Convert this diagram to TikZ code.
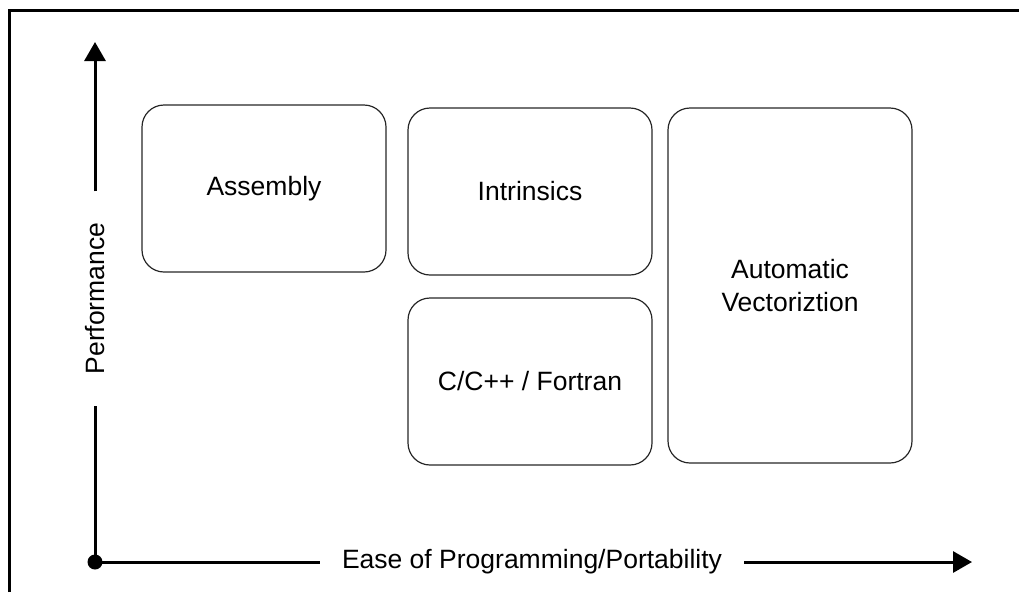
\documentclass[tikz,border=0pt]{standalone}
\usepackage{fontspec}
\setmainfont{Liberation Sans}
\usetikzlibrary{arrows.meta}
\begin{document}
\begin{tikzpicture}[x=1pt,y=-1pt,
  every node/.style={font=\fontsize{26.5}{33}\selectfont},
  box/.style={draw=black!85, line width=1.2pt, rounded corners=22pt,
    rectangle, minimum width=244pt, align=center, inner sep=0pt},
  axis/.style={line width=3pt},
  tip/.style={-{Triangle[length=19pt,width=21pt]}},
  frameline/.style={line width=3pt}]
\useasboundingbox (0,0) rectangle (1019,592);

% outer frame (top and left edges)
\coordinate (fl) at (9.5,592);
\coordinate (fc) at (9.5,10.5);
\coordinate (fr) at (1019,10.5);
\draw[frameline] (fl) -- (fc) -- (fr);

% boxes
\node[box, minimum height=167pt] (asm) at (264,188.5) {Assembly};
\node[box, minimum height=167pt] (intr) at (530,191.5) {Intrinsics};
\node[box, minimum height=167pt] (cc) at (530,381.5) {C/C++ / Fortran};
\node[box, minimum height=355pt] (auto) at (790,285.5) {Automatic\\Vectoriztion};

% axes
\coordinate (O) at (95,562);
\coordinate (ytop) at (95,42);
\coordinate (xend) at (972,562);
\node[rotate=90, inner xsep=31pt, inner ysep=2pt] (ylab) at (95,298.5) {Performance};
\node[inner xsep=22pt, inner ysep=2pt] (xlab) at (532,562) {Ease of Programming/Portability};

\draw[axis] (O) -- (ylab);
\draw[axis, tip] (ylab) -- (ytop);
\draw[axis] (O) -- (xlab);
\draw[axis, tip] (xlab) -- (xend);
\fill (O) circle (7.5pt);
\end{tikzpicture}
\end{document}
